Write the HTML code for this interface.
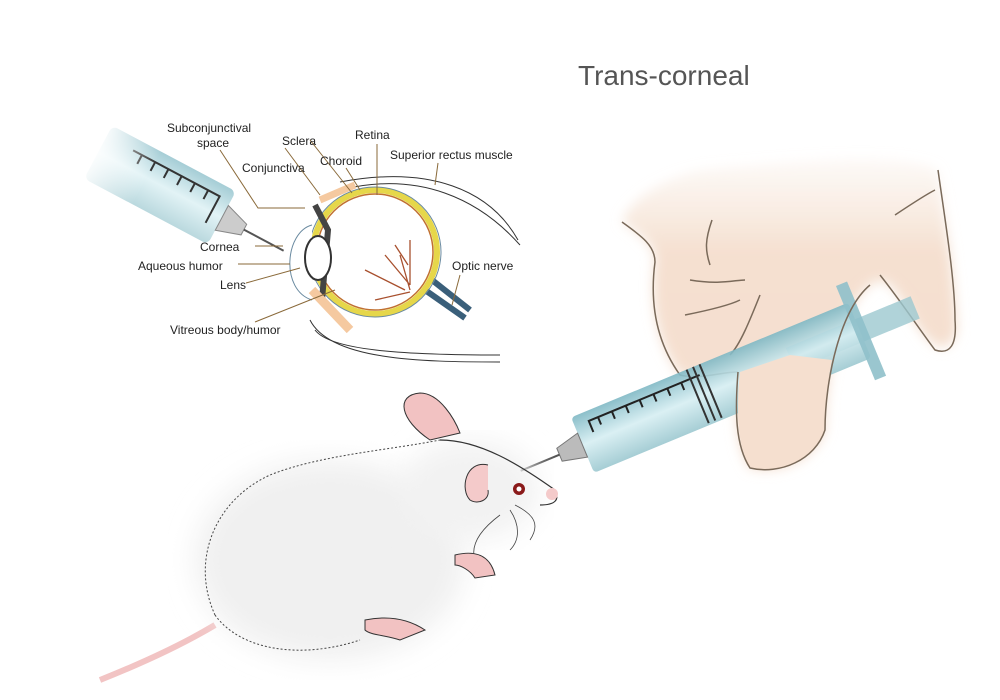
<!DOCTYPE html>
<html><head><style>
html,body{margin:0;padding:0;background:#fff;}
svg{display:block;}
text{font-family:"Liberation Sans",sans-serif;fill:#222;font-size:12px;}
</style></head><body>
<svg width="1000" height="700" viewBox="0 0 1000 700" xmlns="http://www.w3.org/2000/svg">
<defs>
<filter id="b6"><feGaussianBlur stdDeviation="6"/></filter>
<filter id="b14"><feGaussianBlur stdDeviation="14"/></filter>
<linearGradient id="barrel" x1="0" y1="0" x2="0" y2="1">
<stop offset="0" stop-color="#7fb8c4"/><stop offset=".5" stop-color="#d6eef2"/><stop offset="1" stop-color="#9cc8d0"/></linearGradient>
<linearGradient id="handg" x1="0" y1="0" x2="0" y2="1">
<stop offset="0" stop-color="#f6e6da" stop-opacity="0.2"/><stop offset=".3" stop-color="#f5e0d0"/><stop offset="1" stop-color="#f5dfcf"/></linearGradient>
<linearGradient id="sfade" x1="0" y1="0" x2="1" y2="0">
<stop offset="0" stop-color="#fff" stop-opacity="0.9"/><stop offset=".4" stop-color="#fff" stop-opacity="0"/></linearGradient>
</defs>
<text x="578" y="85" style="font-size:28px;fill:#555">Trans-corneal</text>

<!-- small syringe -->
<g transform="translate(160,185) rotate(28)">
<rect x="-70" y="-30" width="140" height="60" rx="6" fill="url(#barrel)" opacity=".7"/>
<path d="M-40,-18 H58 V12" fill="none" stroke="#333" stroke-width="2"/>
<g stroke="#333" stroke-width="2"><line x1="-30" y1="-18" x2="-30" y2="-8"/><line x1="-15" y1="-18" x2="-15" y2="-8"/><line x1="0" y1="-18" x2="0" y2="-8"/><line x1="15" y1="-18" x2="15" y2="-8"/><line x1="30" y1="-18" x2="30" y2="-8"/><line x1="45" y1="-18" x2="45" y2="-8"/></g>
<rect x="-72" y="-32" width="144" height="64" fill="url(#sfade)"/>
<path d="M70,-14 L95,-6 V6 L70,14Z" fill="#ccc" stroke="#888"/>
<line x1="95" y1="0" x2="140" y2="0" stroke="#555" stroke-width="2"/>
</g>

<!-- eye -->
<g fill="none">
<path d="M340,190 C420,170 480,200 520,245" stroke="#333"/>
<path d="M340,182 C430,165 490,190 518,240" stroke="#333"/>
<path d="M315,330 C330,350 400,355 500,355" stroke="#333"/>
<path d="M310,320 C330,360 420,362 500,362" stroke="#333"/>
<line x1="425" y1="290" x2="465" y2="318" stroke="#3a5f7a" stroke-width="6"/>
<line x1="432" y1="280" x2="470" y2="310" stroke="#3a5f7a" stroke-width="6"/>
<ellipse cx="375" cy="252" rx="62" ry="62" fill="#fff" stroke="#e6d74a" stroke-width="6"/>
<ellipse cx="375" cy="252" rx="58" ry="58" stroke="#c07030" stroke-width="1.5"/>
<ellipse cx="375" cy="252" rx="66" ry="65" stroke="#6a8aa0" stroke-width="1"/>
<path d="M312,225 C285,232 280,290 312,300" fill="#fff" stroke="#6a8aa0"/>
<path d="M315,205 L328,230 L322,300" stroke="#444" stroke-width="6"/>
<ellipse cx="318" cy="258" rx="13" ry="22" fill="#fff" stroke="#333" stroke-width="2"/>
<path d="M320,200 L355,185" stroke="#f5c9a0" stroke-width="7"/>
<path d="M312,290 L350,330" stroke="#f5c9a0" stroke-width="9"/>
<path d="M400,255 L410,290 M385,255 L410,285 M365,270 L405,290 M375,300 L410,292 M410,240 L410,285 M395,245 L408,265" stroke="#a8502e" stroke-width="1.3"/>
</g>
<g stroke="#8a6a3a" fill="none" stroke-width="1">
<path d="M220,150 L258,208 H305"/><line x1="285" y1="148" x2="320" y2="195"/><line x1="310" y1="140" x2="352" y2="193"/>
<line x1="346" y1="168" x2="360" y2="190"/><line x1="377" y1="144" x2="377" y2="195"/><line x1="438" y1="163" x2="435" y2="185"/>
<line x1="255" y1="246" x2="283" y2="246"/><line x1="238" y1="264" x2="290" y2="264"/><line x1="246" y1="283" x2="300" y2="268"/>
<line x1="255" y1="322" x2="335" y2="290"/><line x1="460" y1="275" x2="452" y2="305"/>
</g>
<text x="167" y="132">Subconjunctival</text><text x="197" y="147">space</text>
<text x="282" y="145">Sclera</text><text x="355" y="139">Retina</text>
<text x="242" y="172">Conjunctiva</text><text x="320" y="165">Choroid</text>
<text x="390" y="159">Superior rectus muscle</text>
<text x="200" y="251">Cornea</text><text x="138" y="270">Aqueous humor</text>
<text x="220" y="289">Lens</text><text x="452" y="270">Optic nerve</text>
<text x="170" y="334">Vitreous body/humor</text>

<!-- hand -->
<path d="M622,222 C640,235 655,245 655,260 C650,300 655,340 680,375 C700,380 720,372 738,372 C735,410 735,445 750,468 C780,475 815,460 825,430 C825,380 840,310 870,285 C890,270 900,300 920,330 C935,350 950,355 957,330 C955,280 945,220 938,170 C900,150 800,160 700,170 C660,180 630,200 622,222Z" fill="url(#handg)" filter="url(#b6)"/>
<g fill="none" stroke="#7a6a5a" stroke-width="1.5">
<path d="M622,222 C640,235 655,245 655,262 C650,300 655,340 680,375 C700,380 720,372 738,372"/>
<path d="M880,275 C900,300 920,330 935,350 C950,355 957,345 955,320 C955,280 945,220 938,170"/>
<path d="M712,220 C705,240 705,250 710,265 M690,280 C720,285 735,280 745,280 M685,315 C710,310 730,305 740,300 M760,295 C750,320 740,345 730,355 M895,215 C910,205 925,195 935,190"/>
</g>
<!-- big syringe -->
<g transform="translate(735,382) rotate(-22.5)">
<rect x="60" y="-12" width="135" height="24" fill="#9cc8d0" opacity=".8"/>
<rect x="-165" y="-30" width="300" height="60" rx="4" fill="url(#barrel)" opacity=".9"/>
<path d="M130,-50 L142,-50 L142,52 L130,52Z" fill="#8fc0ca" opacity=".9"/>
<path d="M-150,-8 V-20 H-30" fill="none" stroke="#222" stroke-width="2"/>
<g stroke="#222" stroke-width="2"><line x1="-140" y1="-20" x2="-140" y2="-12"/><line x1="-125" y1="-20" x2="-125" y2="-12"/><line x1="-110" y1="-20" x2="-110" y2="-12"/><line x1="-95" y1="-20" x2="-95" y2="-12"/><line x1="-80" y1="-20" x2="-80" y2="-12"/><line x1="-65" y1="-20" x2="-65" y2="-12"/><line x1="-50" y1="-20" x2="-50" y2="-12"/></g>
<path d="M-40,-30 V28 M-33,-30 V28 M-26,-30 V28" stroke="#333" stroke-width="2"/>
<path d="M-165,-13 L-190,-7 V7 L-165,13Z" fill="#bbb" stroke="#777"/>
<line x1="-190" y1="0" x2="-232" y2="0" stroke="#555" stroke-width="2"/>
</g>
<path d="M740,372 C736,410 737,445 750,468 C780,475 815,460 825,430 C826,400 828,380 832,360 L790,355 Z" fill="#f5dfcf"/>
<path d="M738,372 C735,410 735,445 750,468 C780,475 815,460 825,430 C825,380 840,310 870,285" fill="none" stroke="#7a6a5a" stroke-width="1.5"/>

<!-- mouse -->
<path d="M100,680 C150,660 190,640 215,625" stroke="#f2c4c4" stroke-width="6" fill="none"/>
<ellipse cx="330" cy="560" rx="135" ry="100" fill="#f0f0f0" filter="url(#b14)"/>
<ellipse cx="470" cy="490" rx="70" ry="50" fill="#f2f2f2" filter="url(#b14)"/>
<path d="M215,615 C190,560 215,500 270,475 C320,455 390,450 440,440" fill="none" stroke="#444" stroke-width="1" stroke-dasharray="2 2"/>
<path d="M215,615 C240,650 300,660 360,640" fill="none" stroke="#444" stroke-width="1" stroke-dasharray="2 2"/>
<path d="M440,440 C480,440 520,465 555,490 C560,500 555,505 540,505" fill="none" stroke="#333" stroke-width="1.2"/>
<path d="M430,440 C400,420 395,395 420,393 C440,393 455,420 460,433Z" fill="#f2c2c2" stroke="#333" stroke-width="1"/>
<path d="M488,465 C465,460 460,490 470,500 C478,505 490,500 488,490" fill="#f4caca" stroke="#333" stroke-width="1"/>
<circle cx="519" cy="489" r="6" fill="#8a1a1a"/><circle cx="519" cy="489" r="2.5" fill="#fff"/>
<circle cx="552" cy="494" r="6" fill="#f4caca"/>
<path d="M510,510 C520,525 520,540 510,550 M515,505 C535,515 540,525 530,540 M500,515 C480,530 470,545 475,560" fill="none" stroke="#444" stroke-width=".8"/>
<path d="M455,555 C475,550 490,555 495,575 L475,578 C470,570 460,565 455,565Z" fill="#f2c2c2" stroke="#333" stroke-width="1"/>
<path d="M365,620 C390,615 410,620 425,630 L400,640 C385,635 370,635 365,630Z" fill="#f2c2c2" stroke="#333" stroke-width="1"/>
</svg>
</body></html>
